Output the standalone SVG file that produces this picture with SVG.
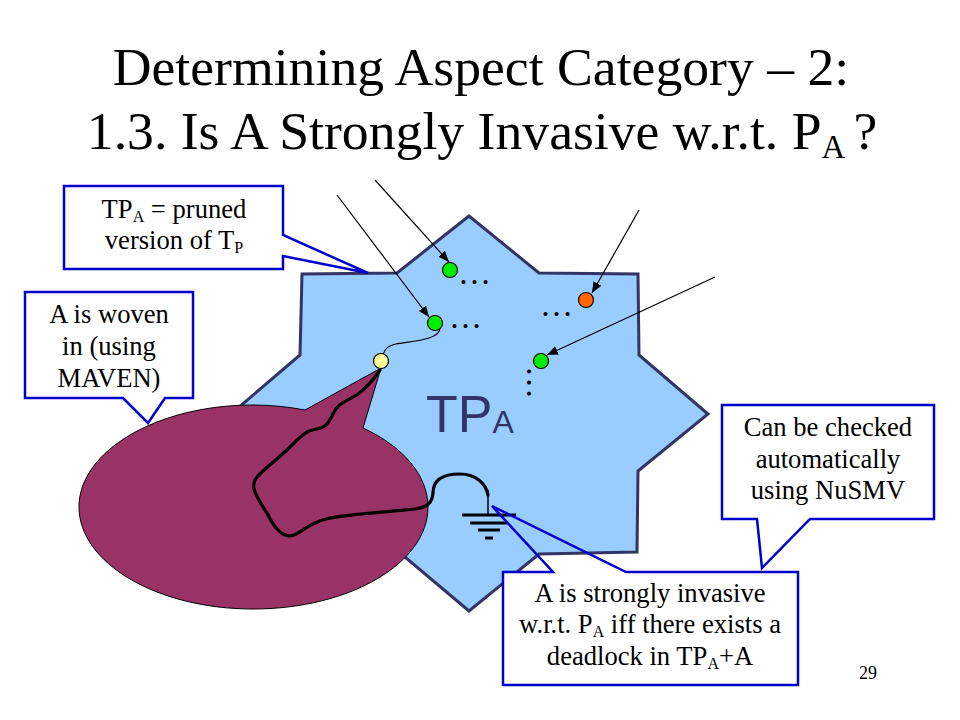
<svg xmlns="http://www.w3.org/2000/svg" width="960" height="720" viewBox="0 0 960 720">
<style>
text{font-family:"Liberation Serif","Times New Roman",serif;fill:#000}
.title{font-size:53.7px;text-anchor:middle}
.c{font-size:26.6px;text-anchor:middle}
.box{fill:#fff;stroke:none}
.out{fill:none;stroke:#0000cc;stroke-width:2.5;stroke-linejoin:miter}
.n{stroke:#000;stroke-width:1.2}
.dots{font-size:33px}
.arrow{fill:none;stroke:#000;stroke-width:1.2;marker-end:url(#ah)}
.g{stroke:#000;stroke-width:3}
</style>
<defs>
<marker id="ah" markerUnits="userSpaceOnUse" markerWidth="12" markerHeight="10" refX="11" refY="4.5" orient="auto"><path d="M0 0L11 4.5L0 9z" fill="#000"/></marker>
</defs>
<rect width="960" height="720" fill="#fff"/>
<text class="title" x="481" y="85">Determining Aspect Category – 2:</text>
<text class="title" x="482" y="149">1.3. Is A Strongly Invasive w.r.t. P<tspan font-size="33" dy="9">A</tspan><tspan dy="-9" dx="8">?</tspan></text>
<g id="star">
<path d="M469 216L539 273L638 274L639 355L708 414L638 471L637 552L539 554L469 611L405 557L301 555L300 473L231 414L300 355L302 274L397 273Z" fill="#99ccff" stroke="#333366" stroke-width="3" stroke-linejoin="miter"/>
<text x="426" y="432" style='font-family:"Liberation Sans",Arial,sans-serif;font-size:52px;fill:#333366'>TP<tspan font-size="32" dy="1">A</tspan></text>
</g>
<g id="aspect">
<path d="M79 507C79 451 157 405 253 405C272 405 289 407 305 410L381 368L363 428C404 447 428 476 428 507C428 563 350 609 253 609C157 609 79 563 79 507Z" fill="#993366" stroke="#000" stroke-width="1"/>
</g>
<g id="connectors">
<path class="arrow" d="M375 180L449 262"/>
<path class="arrow" d="M337 195L429 317"/>
<path class="arrow" d="M639 210L592 293"/>
<path class="arrow" d="M715 277L547 355"/>
<path d="M383 355C385 348 388 346 396 344C412 341 440 340 440 328" fill="none" stroke="#000" stroke-width="1.2"/>
<path d="M380 370C372 382 366 388 358 394C345 402 337 404 333 414C328 424 325 428 316 429C305 431 300 437 290 447C280 457 270 464 262 472C255 478 253 482 254 489C256 497 262 505 268 515C274 527 282 536 290 536C298 536 306 524 326 519C345 514 390 512 415 509C428 507 432 503 433 493C433 482 440 474 460 474C475 474 486 483 488 495" fill="none" stroke="#000" stroke-width="3.2" stroke-linecap="round"/>
<path d="M488 490V515" stroke="#000" stroke-width="1.5"/>
<path class="g" d="M462 515H516M470 523H507M478 530H500M485 538H493" fill="none"/>
</g>
<g id="node-yellow"><circle class="n" cx="381" cy="361" r="7.5" fill="#ffff99"/></g>
<g id="node-green-1"><circle class="n" cx="450" cy="270" r="7.5" fill="#00ee00"/><text class="dots" x="458" y="284">…</text></g>
<g id="node-green-2"><circle class="n" cx="435" cy="323" r="7.5" fill="#00ee00"/><text class="dots" x="449" y="328">…</text></g>
<g id="node-orange"><circle class="n" cx="586" cy="300" r="7.5" fill="#ff6600"/><text class="dots" x="540" y="316">…</text></g>
<g id="node-green-3"><circle class="n" cx="541" cy="361" r="7.5" fill="#00ee00"/><text class="dots" transform="translate(527 366) rotate(90)">…</text></g>
<g id="callout-pruned">
<path class="box" d="M64 186H283V235L368 273L283 256V269H64Z"/>
<path class="out" d="M64 186H283V235L368 273L283 256V269H64Z"/>
<text class="c" x="174" y="218">TP<tspan font-size="16" dy="4">A</tspan><tspan dy="-4"> = pruned</tspan></text>
<text class="c" x="174" y="249">version of T<tspan font-size="16" dy="4">P</tspan></text>
</g>
<g id="callout-woven">
<path class="box" d="M25 292H193V398H165L148 423L123 398H25Z"/>
<path class="out" d="M25 292H193V398H165L148 423L123 398H25Z"/>
<text class="c" x="109" y="323">A is woven</text>
<text class="c" x="109" y="355">in (using</text>
<text class="c" x="109" y="387">MAVEN)</text>
</g>
<g id="callout-nusmv">
<path class="box" d="M722 405H934V519H810L762 568L757 519H722Z"/>
<path class="out" d="M722 405H934V519H810L762 568L757 519H722Z"/>
<text class="c" x="828" y="436">Can be checked</text>
<text class="c" x="828" y="468">automatically</text>
<text class="c" x="828" y="499">using NuSMV</text>
</g>
<g id="callout-invasive">
<rect class="box" x="503" y="572" width="295" height="113"/>
<path class="out" d="M503 572H553L492 506L626 572H798V685H503Z"/>
<text class="c" x="650" y="602">A is strongly invasive</text>
<text class="c" x="650" y="633">w.r.t. P<tspan font-size="16" dy="4">A</tspan><tspan dy="-4"> iff there exists a</tspan></text>
<text class="c" x="650" y="665">deadlock in TP<tspan font-size="16" dy="4">A</tspan><tspan dy="-4">+A</tspan></text>
</g>
<text x="868" y="679" style="font-size:18px;text-anchor:middle">29</text>
</svg>
